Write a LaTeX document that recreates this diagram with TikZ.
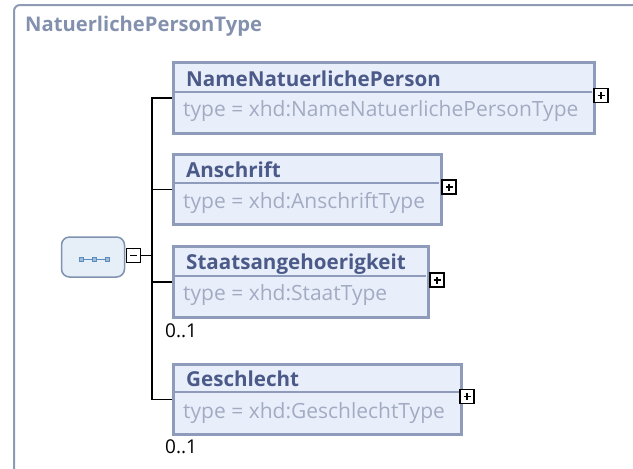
\documentclass[tikz,border=0pt]{standalone}
\usepackage{fontspec}
\setmainfont{Open Sans}
\definecolor{frame}{HTML}{8E9BB5}
\definecolor{boxfill}{HTML}{E9EFFA}
\definecolor{boxline}{HTML}{8E9BBA}
\definecolor{nametext}{HTML}{4B5A88}
\definecolor{typetext}{HTML}{A3ABC3}
\definecolor{titletext}{HTML}{8391AE}
\definecolor{seqfill}{HTML}{E6EEF8}
\definecolor{seqline}{HTML}{7F93B0}
\definecolor{seqdot}{HTML}{5B8DC0}
\tikzset{
  elbox/.style={draw=boxline, line width=3pt, fill=boxfill, anchor=north west, inner sep=0pt},
  divider/.style={draw=boxline, line width=2pt},
  nm/.style={anchor=base west, font=\bfseries\fontsize{20.6}{22}\selectfont, text=nametext, inner sep=0pt},
  tp/.style={anchor=base west, font=\fontsize{21}{23}\selectfont, text=typetext, inner sep=0pt},
  occ/.style={anchor=base west, font=\fontsize{19}{21}\selectfont, text=black, inner sep=0pt},
  pmbox/.style={draw=black, line width=1.5pt, fill=white, minimum size=14pt, inner sep=0pt},
  conn/.style={line width=1.6pt, black},
  seqbox/.style={draw=seqline, line width=1.5pt, fill=seqfill, rounded corners=8pt, minimum width=63pt, minimum height=40pt, inner sep=0pt},
  seqsq/.style={draw=seqdot, fill=seqdot!60, line width=0.8pt, minimum size=4pt, inner sep=0pt}
}
\begin{document}
\begin{tikzpicture}[x=1pt,y=-1pt]
\useasboundingbox (0,0) rectangle (633,469);
% outer frame
\draw[frame, line width=2pt, rounded corners=6pt] (14,480) -- (14,5) -- (650,5);
\node[anchor=base west, inner sep=0pt, font=\bfseries\fontsize{20.2}{22}\selectfont, text=titletext] (title) at (25,31) {NatuerlichePersonType};

% sequence compositor
\node[seqbox] (seq) at (93,257) {};
\node[seqsq] (s1) at (81,259) {};
\node[seqsq] (s2) at (94,259) {};
\node[seqsq] (s3) at (107,259) {};
\draw[seqdot, line width=0.8pt] (s1) -- (s2) (s2) -- (s3);
\node[pmbox] (mn) at (133.5,255.5) {};
\draw[line width=1.5pt] ([xshift=-3.5pt]mn.center) -- ([xshift=3.5pt]mn.center);

% element boxes
\node[elbox, minimum width=421pt, minimum height=71pt] (b1) at (172,61) {};
\draw[divider] (173,92) -- (592,92);
\node[nm] (n1) at (186,86) {NameNatuerlichePerson};
\node[tp] (t1) at (183,116) {type = xhd:NameNatuerlichePersonType};
\node[pmbox] (p1) at (601,95.5) {};

\node[elbox, minimum width=268pt, minimum height=70pt] (b2) at (172,153) {};
\draw[divider] (173,183) -- (439,183);
\node[nm] (n2) at (186,177) {Anschrift};
\node[tp] (t2) at (183,208) {type = xhd:AnschriftType};
\node[pmbox] (p2) at (449,187) {};

\node[elbox, minimum width=255pt, minimum height=71pt] (b3) at (172,245) {};
\draw[divider] (173,275.5) -- (426,275.5);
\node[nm] (n3) at (186,269) {Staatsangehoerigkeit};
\node[tp] (t3) at (183,300) {type = xhd:StaatType};
\node[pmbox] (p3) at (437,280) {};
\node[occ] (o3) at (165,337) {0..1};

\node[elbox, minimum width=288pt, minimum height=70pt] (b4) at (172,363) {};
\draw[divider] (173,392) -- (459,392);
\node[nm] (n4) at (186,386) {Geschlecht};
\node[tp] (t4) at (183,418) {type = xhd:GeschlechtType};
\node[pmbox] (p4) at (467,396.5) {};
\node[occ] (o4) at (165,453) {0..1};

% plus signs
\foreach \p in {p1,p2,p3,p4}{
  \draw[line width=1.5pt] ([xshift=-3.5pt]\p.center) -- ([xshift=3.5pt]\p.center);
  \draw[line width=1.5pt] ([yshift=-3.5pt]\p.center) -- ([yshift=3.5pt]\p.center);
}

% connectors
\coordinate (trunk) at (152,255.5);
\draw[conn] (mn.east) -- (trunk);
\draw[conn] (b1.west) -| (trunk |- b1.west) -- (trunk |- b4.west) -- (b4.west);
\draw[conn] (b2.west) -- (trunk |- b2.west);
\draw[conn] (b3.west) -- (trunk |- b3.west);
\end{tikzpicture}
\end{document}
